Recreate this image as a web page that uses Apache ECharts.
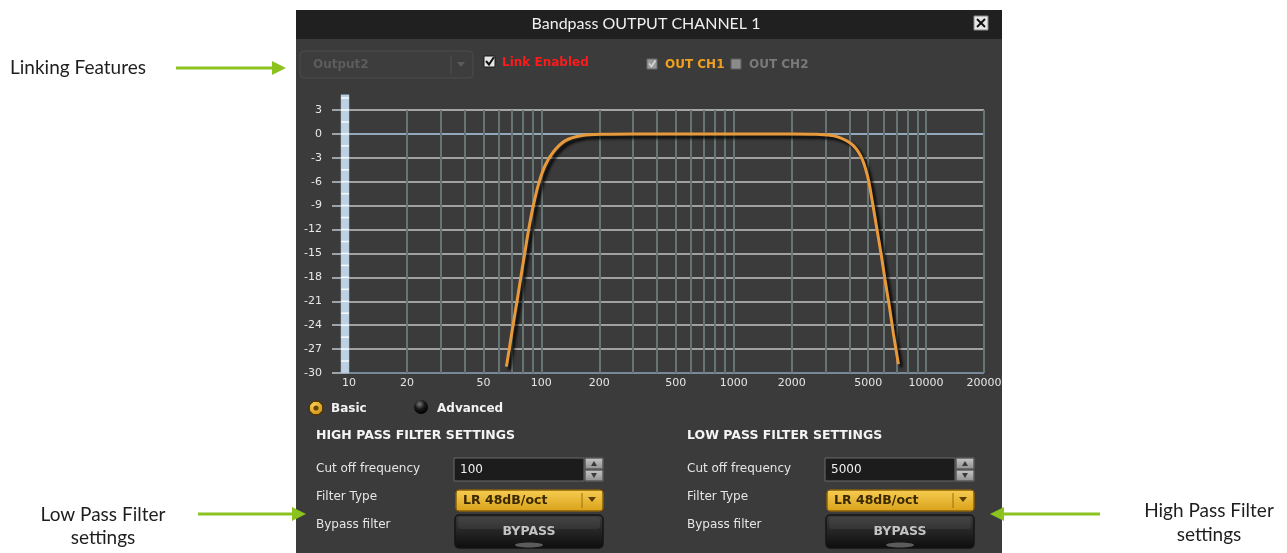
<!DOCTYPE html>
<html><head><meta charset="utf-8">
<script src="https://cdn.jsdelivr.net/npm/echarts@6/dist/echarts.min.js"></script>
<style>html,body{margin:0;padding:0;background:#fff;}#c{width:1287px;height:553px;}</style>
</head><body><div id="c"></div>
<script>
// ---- data ----
const freqs = [65.8, 68.4, 71.1, 74.7, 78.3, 81.9, 85.9, 90.6, 96.9, 104.9, 115.9, 133.4, 162.8, 215, 300, 500, 1000, 2000, 2700, 3327, 4064, 4581, 4963, 5272, 5555, 5830, 6115, 6438, 6755, 7178];
const gains = [-29.2, -26.7, -24.1, -21.0, -17.9, -15.0, -12.0, -9.1, -6.2, -3.9, -2.2, -0.84, -0.2, -0.04, 0, 0, 0, 0, -0.05, -0.25, -1.2, -2.8, -5.3, -8.7, -12.0, -15.0, -18.3, -21.6, -25.0, -28.9];
const xTickLabels = [10, 20, 50, 100, 200, 500, 1000, 2000, 5000, 10000, 20000];
const gridFreqs = [20, 30, 40, 50, 60, 70, 80, 90, 100, 200, 300, 400, 500, 600, 700, 800, 900, 1000, 2000, 3000, 4000, 5000, 6000, 7000, 8000, 9000, 10000, 20000];
const yMin = -30, yMax = 3, yStep = 3;
const title = 'Bandpass OUTPUT CHANNEL 1';
const hpCutoff = '100', lpCutoff = '5000', filterType = 'LR 48dB/oct';

const chart = echarts.init(document.getElementById('c'));
const F = '"DejaVu Sans", Tahoma, sans-serif';
const AF = '19px Lato, "Open Sans", sans-serif';
const LINE_COLORS = ['#8fa3b6', '#c4c4c4', '#c4c4c4', '#c4c4c4', '#c4c4c4', '#c4c4c4', '#c4c4c4', '#c4c4c4', '#c4c4c4', '#c4c4c4', '#8fa3b6', '#c8c8c8'];

function txt(x, y, text, font, fill, align) {
  return { type: 'text', x: x, y: y, z: 20, style: { text: text, font: font, fill: fill, align: align || 'left', verticalAlign: 'middle' } };
}
function rect(x, y, w, h, style, r) {
  return { type: 'rect', z: 15, shape: { x: x, y: y, width: w, height: h, r: r || 0 }, style: style };
}
function lin(x1, y1, x2, y2, stroke, w) {
  return { type: 'line', z: 16, shape: { x1: x1, y1: y1, x2: x2, y2: y2 }, style: { stroke: stroke, lineWidth: w || 1 } };
}
function poly(points, fill) {
  return { type: 'polygon', z: 16, shape: { points: points }, style: { fill: fill } };
}
function vgrad(c1, c2) {
  return new echarts.graphic.LinearGradient(0, 0, 0, 1, [{ offset: 0, color: c1 }, { offset: 1, color: c2 }]);
}

function filterBlock(dx, header, cutoff) {
  const g = [];
  g.push(txt(316 + dx, 436, header, 'bold 12.5px ' + F, '#f4f4f4'));
  g.push(txt(316 + dx, 469, 'Cut off frequency', '12px ' + F, '#e6e6e6'));
  g.push(txt(316 + dx, 497, 'Filter Type', '12px ' + F, '#e6e6e6'));
  g.push(txt(316 + dx, 525, 'Bypass filter', '12px ' + F, '#e6e6e6'));
  // cutoff input
  g.push(rect(454 + dx, 458, 130, 23, { fill: '#1c1c1c', stroke: '#6a6a6a', lineWidth: 1 }));
  g.push(txt(460 + dx, 469.5, cutoff, '12px ' + F, '#f0f0f0'));
  g.push(rect(585 + dx, 458, 18, 11, { fill: vgrad('#c8c8c8', '#8e8e8e'), stroke: '#5a5a5a' }));
  g.push(rect(585 + dx, 470, 18, 11, { fill: vgrad('#c8c8c8', '#8e8e8e'), stroke: '#5a5a5a' }));
  g.push(poly([[591 + dx, 466], [594 + dx, 461], [597 + dx, 466]], '#3a3a3a'));
  g.push(poly([[591 + dx, 473], [597 + dx, 473], [594 + dx, 478]], '#3a3a3a'));
  // filter type dropdown
  g.push(rect(456 + dx, 490, 147, 21, { fill: vgrad('#f7cd52', '#d9a11a'), stroke: '#8a6008', lineWidth: 1 }, 3));
  g.push(txt(463 + dx, 500.5, filterType, 'bold 12.5px ' + F, '#3a2800'));
  g.push(lin(582 + dx, 493, 582 + dx, 508, '#9a700f', 1));
  g.push(poly([[588 + dx, 497], [596 + dx, 497], [592 + dx, 502]], '#5a3c00'));
  // bypass button
  g.push(rect(455 + dx, 515, 148, 33, { fill: vgrad('#3c3c3c', '#0d0d0d'), stroke: '#151515', lineWidth: 1.5 }, 4));
  g.push(rect(458 + dx, 517, 142, 12, { fill: 'rgba(255,255,255,0.06)' }, 3));
  g.push(txt(529 + dx, 532, 'BYPASS', 'bold 12.5px ' + F, '#c4c4c4', 'center'));
  g.push({ type: 'ellipse', z: 16, shape: { cx: 529 + dx, cy: 545, rx: 14, ry: 2.5 }, style: { fill: '#5c5c5c' } });
  return g;
}

function arrow(x1, x2, y, dir) {
  const head = dir > 0 ? [[x2 - 14, y - 7], [x2, y], [x2 - 14, y + 7]] : [[x2 + 14, y - 7], [x2, y], [x2 + 14, y + 7]];
  return [lin(x1, y, x2 - dir * 12, y, '#8cc21e', 3), poly(head, '#8cc21e')];
}

const graphics = [].concat(
  [
    { type: 'rect', z: -10, silent: true, shape: { x: 296, y: 10, width: 706, height: 543 }, style: { fill: '#3b3b3b' } },
    rect(296, 10, 706, 29, { fill: '#202020' }),
    txt(646, 24, title, '16px Lato, "Open Sans", sans-serif', '#f0f0f0', 'center'),
    rect(974, 16, 14, 14, { fill: '#e8e8e8', stroke: '#888', lineWidth: 1 }),
    lin(977, 19, 985, 27, '#111', 2), lin(985, 19, 977, 27, '#111', 2),
    // linking row
    rect(300, 51, 173, 27, { fill: '#3d3d3d', stroke: '#4c4c4c', lineWidth: 1 }, 4),
    txt(313, 64.5, 'Output2', 'bold 12px ' + F, '#5c5c5c'),
    lin(451, 55, 451, 74, '#4e4e4e', 1),
    poly([[457, 62], [465, 62], [461, 67]], '#5a5a5a'),
    rect(484, 56, 11, 11, { fill: '#e6e6e6', stroke: '#1a1a1a', lineWidth: 1 }),
    { type: 'polyline', z: 17, shape: { points: [[486, 61], [489, 64.5], [494, 57]] }, style: { stroke: '#111', lineWidth: 2, fill: null } },
    txt(502, 63, 'Link Enabled', 'bold 12px ' + F, '#ff1a1a'),
    rect(647, 59, 10, 10, { fill: '#9a9a9a', stroke: '#6a6a6a', lineWidth: 1 }),
    { type: 'polyline', z: 17, shape: { points: [[649, 63.5], [651.5, 66.5], [655.5, 60.5]] }, style: { stroke: '#d8d8d8', lineWidth: 1.5, fill: null } },
    txt(665, 65, 'OUT CH1', 'bold 12px ' + F, '#f0a020'),
    rect(731, 59, 10, 10, { fill: '#8a8a8a', stroke: '#5e5e5e', lineWidth: 1 }),
    txt(749, 65, 'OUT CH2', 'bold 12px ' + F, '#7a7a7a'),
    // mode radios
    { type: 'circle', z: 16, shape: { cx: 316, cy: 408, r: 7 }, style: { fill: new echarts.graphic.RadialGradient(0.4, 0.35, 0.7, [{ offset: 0, color: '#ffd25a' }, { offset: 1, color: '#c98a10' }]), stroke: '#4a3200', lineWidth: 1 } },
    { type: 'circle', z: 17, shape: { cx: 316, cy: 408, r: 2.6 }, style: { fill: '#6a4400' } },
    txt(331, 409, 'Basic', 'bold 12px ' + F, '#f2f2f2'),
    { type: 'circle', z: 16, shape: { cx: 421, cy: 407, r: 7 }, style: { fill: new echarts.graphic.RadialGradient(0.4, 0.3, 0.7, [{ offset: 0, color: '#7a7a7a' }, { offset: 0.5, color: '#1a1a1a' }, { offset: 1, color: '#000' }]) } },
    txt(437, 409, 'Advanced', 'bold 12px ' + F, '#f2f2f2'),
    // annotations
    txt(10, 68, 'Linking Features', AF, '#1e1e1e'),
    txt(103, 515, 'Low Pass Filter', AF, '#1e1e1e', 'center'),
    txt(103, 538, 'settings', AF, '#1e1e1e', 'center'),
    txt(1209, 511, 'High Pass Filter', AF, '#1e1e1e', 'center'),
    txt(1209, 535, 'settings', AF, '#1e1e1e', 'center')
  ],
  arrow(176, 286, 68, 1),
  arrow(198, 306, 514, 1),
  arrow(1100, 990, 514, -1),
  filterBlock(0, 'HIGH PASS FILTER SETTINGS', hpCutoff),
  filterBlock(371, 'LOW PASS FILTER SETTINGS', lpCutoff)
);

chart.setOption({
  animation: false,
  backgroundColor: '#ffffff',
  grid: { left: 349, right: 303, top: 110, bottom: 180, containLabel: false },
  xAxis: {
    type: 'log', logBase: 10, min: 10, max: 20000,
    axisLine: { show: true, lineStyle: { color: '#93a8ba', width: 2 } },
    axisTick: { show: false },
    splitLine: { show: false },
    axisLabel: { customValues: xTickLabels, formatter: function (v) { return String(Math.round(v)); }, color: '#e6e6e6', fontSize: 11, fontFamily: 'DejaVu Sans', margin: 5 }
  },
  yAxis: {
    type: 'value', min: yMin, max: yMax, interval: yStep,
    axisLine: { show: false },
    axisTick: { show: true, inside: false, length: 17, lineStyle: { color: '#b4bec8', width: 1.6 } },
    splitLine: { show: true, lineStyle: { color: LINE_COLORS, width: 1.6 } },
    axisLabel: { color: '#e8e8e8', fontSize: 11, fontFamily: 'DejaVu Sans', margin: 27 }
  },
  graphic: graphics,
  series: [
    {
      type: 'line', z: 1, data: [], silent: true,
      markLine: {
        silent: true, symbol: ['none', 'none'], label: { show: false }, animation: false,
        lineStyle: { color: '#667474', width: 2, type: 'solid' },
        emphasis: { disabled: true },
        data: gridFreqs.map(function (f) { return { xAxis: f }; })
      }
    },
    {
      type: 'line', z: 5, data: freqs.map(function (f, i) { return [f, gains[i]]; }),
      showSymbol: false, smooth: 0.3,
      lineStyle: { color: '#e8993a', width: 3, shadowColor: 'rgba(0,0,0,0.95)', shadowBlur: 3, shadowOffsetX: 3, shadowOffsetY: 3 }
    }
  ]
});

// level bar at the left of the plot, marks every 1.5 dB
const barTop = chart.convertToPixel({ yAxisIndex: 0 }, 4.9);
const barBot = chart.convertToPixel({ yAxisIndex: 0 }, yMin);
const bar = [rect(341, barTop, 8, barBot - barTop, { fill: '#bdd1e3', stroke: '#a9bfd3', lineWidth: 0.5 })];
for (let v = yMin + 1.5; v <= 4.6; v += 1.5) {
  const py = chart.convertToPixel({ yAxisIndex: 0 }, v);
  bar.push(lin(341, py, 349, py, '#f4f8fb', 1.6));
}
chart.setOption({ graphic: graphics.concat(bar) });
</script></body></html>
